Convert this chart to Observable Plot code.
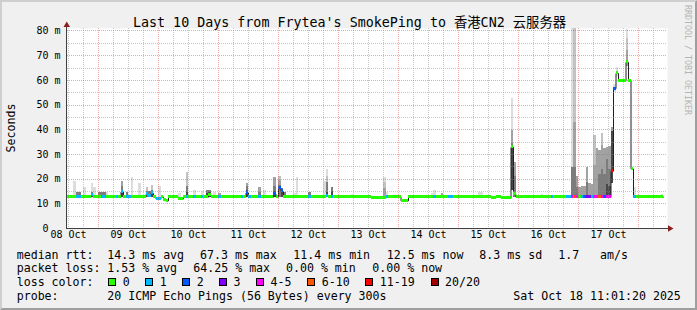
<!DOCTYPE html>
<html><head><meta charset="utf-8">
<script src="https://cdn.jsdelivr.net/npm/d3@7"></script>
<script src="https://cdn.jsdelivr.net/npm/@observablehq/plot@0.6"></script>
<style>
html,body{margin:0;padding:0;background:#f0f0f0;}
svg text{white-space:pre;}
</style></head><body><div id="chart"></div>
<script>
// ---------- data (hours after 2025-10-08 00:00 UTC, values in ms) ----------
const startHour = 11.6, endHour = 251.6, dataEndHour = 250;
const yMax = 81;
const baseMedian = 12.7;
const smokeBase = 12.4;
const medianRuns = [ // [fromHour, toHour, median ms]
  [21,22,13.5],[33,34,14.8],[43,44,13.8],[44,45,13.2],[45,46,14.2],[47,49,12.0],
  [50,51,11.7],[51,52,11.2],[56,58,12.0],[68,69,13.5],[83,84,14.4],[94,95,14.0],
  [96,97,16.3],[97,98,15.0],[115,116,13.2],[133,139,12.3],[145,148,11.2],
  [181,183,12.3],[185,189,12.3],[189,190,32.9],[190,191,13.8],
  [229,230,23.2],[230,231,56.6],[231,232,62.8],[232,235,59.8],[235,236,67.3],
  [236,237,59.8],[237,238,24.1]
];
const lossRuns = [ // [fromHour, toHour, loss class index]
  [15,17,1],[21,22,1],[25,27,1],[31,32,1],[33,34,1],[35,37,1],[43,46,1],[47,49,1],
  [59,60,1],[62,63,1],[65,66,1],[72,73,1],[81,82,1],[83,84,2],[84,85,1],[88,89,1],
  [94,95,2],[96,98,2],[108,109,1],[115,116,1],[117,118,1],[139,140,1],[158,159,1],
  [164,166,1],[205,206,1],[211,213,1],[213,214,4],[214,215,5],[215,216,4],
  [217,218,1],[218,219,2],[219,221,3],[221,222,1],[222,224,4],[224,225,5],
  [225,226,4],[226,227,2],[227,229,4],[229,230,6],[230,231,2],[238,239,1]
];
// [hour, low, tops from lightest to darkest smoke shade]
const smoke = [
  [14,null,18.9,null,null,null,null],[15,null,null,null,null,14.5,null],
  [16,null,null,null,null,14.5,null],[18,null,16.8,null,null,null,null],
  [21,null,18.1,null,null,14.5,13.8],[22,null,16.5,null,null,null,null],
  [24,null,null,null,null,14.5,null],[25,null,null,null,null,14.5,null],
  [26,null,null,null,null,14.5,null],[27,null,14.5,null,null,null,null],
  [33,null,null,null,18.9,16.9,15.5],[35,null,null,null,null,14.5,null],
  [37,null,20.8,null,null,null,null],[40,null,18.1,null,null,null,null],
  [43,null,null,16.5,null,14.8,null],[44,null,null,null,null,14.8,null],
  [45,null,null,17.5,null,15.5,14.8],[48,null,17.2,null,null,null,null],
  [56,null,14.1,null,null,null,null],[59,null,null,22.5,null,17,14.5],
  [62,null,15.2,null,null,null,null],[65,null,14.9,null,null,null,null],
  [67,null,null,null,null,15.2,14],[68,null,null,null,null,15.5,14.5],
  [70,null,14.5,null,null,null,null],[72,null,null,null,14.3,null,null],
  [83,null,null,null,18.1,17,15.5],[88,null,null,null,16.5,14.5,null],
  [90,null,15.2,null,null,null,null],[94,null,null,null,20.8,17,15],
  [96,null,null,21,19.5,17.5,null],[97,null,null,null,null,16,15.5],
  [98,null,null,null,null,14.5,null],[102,null,14.0,null,null,null,null],
  [103,null,20.8,null,null,null,null],[108,null,null,null,null,14.5,null],
  [114,null,19,null,null,null,null],[115,null,23.9,21,null,18.5,14.5],
  [117,null,null,null,null,16.8,15],[125,null,13.8,null,null,null,null],
  [138,null,20.8,18.5,16,null,null],[139,null,14.5,null,null,null,null],
  [157,null,14.1,null,null,null,null],[158,null,15.5,null,null,null,null],
  [161,null,null,null,14.3,null,null],[176,null,14.5,null,null,null,null],
  [177,null,14.5,null,null,null,null],[189,15.2,52.5,null,39.7,34.5,33],
  [190,null,null,null,26.8,21,null],[201,null,13.9,null,null,null,null],
  [213,null,82,null,null,24.8,null],[214,null,null,82,43.1,24.8,null],
  [215,null,null,null,21.2,16.5,null],[216,null,null,null,16.5,null,null],
  [217,null,null,null,17,null,null],[218,null,null,null,17,null,null],
  [219,null,null,null,24.8,18.5,null],[220,null,null,null,18.3,null,null],
  [221,null,null,null,18,null,null],[222,null,null,37.7,25.5,null,null],
  [223,null,null,null,32.3,null,null],[224,null,null,null,31.4,22,null],
  [225,null,null,38.3,33.5,24,null],[226,null,null,null,32.3,22,null],
  [227,null,null,null,33,28,18],[228,null,null,null,33.3,24,17],
  [229,18.1,null,null,41,null,39.3],[230,55,58.5,null,null,null,null],
  [231,61.5,65.1,null,null,null,null],[235,65.5,80.5,76.8,72.1,null,null],
  [238,null,16.7,null,null,null,null],[249,null,13.9,null,null,null,null]
];
const smokeShades = ["#dddddd","#c2c2c2","#a2a2a2","#7c7c7c","#484848"];
const lossLabels = ["0","1","2","3","4-5","6-10","11-19","20/20"];
const lossColors = ["#26ff00","#00b8ff","#0059ff","#7e00ff","#ff00ff","#ff5500","#ff0000","#a10000"];
const yTicks = [0,10,20,30,40,50,60,70,80];
const yMinor = [5,15,25,35,45,55,65,75];
const titleText = "Last 10 Days from Frytea's SmokePing to 香港CN2 云服务器";
const yLabel = "Seconds";
const watermark = "RRDTOOL / TOBI OETIKER";
const statRows = [
  [["median rtt:",16.7],["14.3 ms avg",107.3],["67.3 ms max",200],["11.4 ms min",293.3],["12.5 ms now",386.7],["8.3 ms sd",479.3],["1.7",558.3],["am/s",600]],
  [["packet loss:",16.7],["1.53 % avg",107.3],["64.25 % max",193.3],["0.00 % min",286],["0.00 % now",372.3]],
  [["loss color:",16.7]],
  [["probe:",16.7],["20 ICMP Echo Pings (56 Bytes) every 300s",107.3],["Sat Oct 18 11:01:20 2025",513.3]]
];

// ---------- derived tables ----------
const DAY0 = Date.UTC(2025, 9, 8);
const t = h => new Date(DAY0 + h * 3600000);
const valueAt = (runs, h, d) => { for (const [a,b,v] of runs) if (h >= a && h < b) return v; return d; };
const hourly = d3.range(11, dataEndHour).map(h => ({
  h, x1: t(Math.max(h, startHour)), x2: t(h + 1),
  m: valueAt(medianRuns, h, baseMedian), loss: valueAt(lossRuns, h, 0)
}));
const medianPts = hourly.map(d => ({x: d.x1, m: d.m}))
  .concat([{x: t(dataEndHour), m: hourly[hourly.length - 1].m}]);
const smokeRects = [];
smoke.forEach(([h, lo, ...tops]) => tops.forEach((v, k) => {
  if (v != null) smokeRects.push({k, x1: t(h), x2: t(h + 1), y1: lo ?? smokeBase, y2: Math.min(v, yMax), fill: smokeShades[k]});
}));
smokeRects.sort((a, b) => a.k - b.k);
const sixHours = d3.range(12, endHour, 6);
const majorTimes = sixHours.filter(h => h % 24 === 0).map(t);
const minorTimes = sixHours.filter(h => h % 24 !== 0).map(t);
const noonTimes = d3.range(12, 240, 24).map(t);
const fmtDay = d3.utcFormat("%d %b");
const MONO = "'DejaVu Sans Mono', 'Noto Sans CJK SC', monospace";

const plot = Plot.plot({
  width: 697, height: 310,
  marginLeft: 67, marginRight: 30, marginTop: 28, marginBottom: 82,
  style: {background: "#f0f0f0", fontFamily: MONO, color: "black", overflow: "visible"},
  x: {type: "utc", domain: [t(startHour), t(endHour)], axis: null},
  y: {domain: [0, yMax], axis: null},
  color: {type: "identity"},
  marks: [
    Plot.frame({fill: "white", stroke: "none"}),
    Plot.rect(smokeRects, {x1: "x1", x2: "x2", y1: "y1", y2: "y2", fill: "fill", shapeRendering: "crispEdges"}),
    Plot.line(medianPts, {x: "x", y: "m", curve: "step-after", stroke: "#202020", strokeWidth: 1}),
    Plot.rect(hourly, {x1: "x1", x2: "x2", y1: d => d.m - 0.6, y2: d => d.m + 0.6, fill: d => lossColors[d.loss], shapeRendering: "crispEdges"}),
    Plot.ruleX(minorTimes, {stroke: "rgba(143,143,143,0.5)", strokeDasharray: "1,1", shapeRendering: "crispEdges"}),
    Plot.ruleY(yMinor, {stroke: "rgba(143,143,143,0.5)", strokeDasharray: "1,1", shapeRendering: "crispEdges"}),
    Plot.ruleX(majorTimes, {stroke: "rgba(222,80,80,0.5)", strokeDasharray: "1,1", shapeRendering: "crispEdges"}),
    Plot.ruleY(yTicks.filter(v => v > 0), {stroke: "rgba(222,80,80,0.5)", strokeDasharray: "1,1", shapeRendering: "crispEdges"}),
    Plot.text(noonTimes, {x: d => d, frameAnchor: "bottom", dy: 9.8, text: d => fmtDay(d), fontSize: 10, fontFamily: MONO, fill: "black"}),
    Plot.text(yTicks, {y: d => d, frameAnchor: "left", dx: -31, textAnchor: "start", text: d => d ? `${d} m` : " 0", fontSize: 10, fontFamily: MONO, fill: "black"})
  ]
});

// ---------- decorations ----------
const svg = d3.select(plot);
const ns = svg.append("g").attr("text-anchor", "start");
const AX = "#404040", ARROW = "#8b1e1e";
ns.append("line").attr("x1", 66.5).attr("x2", 66.5).attr("y1", 229).attr("y2", 25).attr("stroke", AX);
ns.append("line").attr("x1", 66).attr("x2", 669).attr("y1", 228.5).attr("y2", 228.5).attr("stroke", AX);
ns.append("path").attr("d", "M63.5,27L70,27L66.75,21.5Z").attr("fill", ARROW);
ns.append("path").attr("d", "M668,225.3L668,231.7L673.5,228.5Z").attr("fill", ARROW);
// borders
ns.append("path").attr("d", "M0,0H697L695,2H2V308L0,310Z").attr("fill", "#cfcfcf");
ns.append("path").attr("d", "M697,0V310H0L2,308H695V2Z").attr("fill", "#9e9e9e");
const txt = (x, y, s, size, fill = "black") => ns.append("text").attr("x", x).attr("y", y)
  .attr("text-anchor", "start").attr("font-size", size).attr("font-family", MONO).attr("fill", fill).text(s);
// title
txt(133, 27, titleText, 13.33);
// y label
ns.append("text").attr("transform", "translate(14.5,128) rotate(-90)").attr("text-anchor", "middle")
  .attr("font-size", 11.6).attr("font-family", MONO).attr("fill", "black").text(yLabel);
// watermark
ns.append("text").attr("transform", "translate(685,5) rotate(90)").attr("text-anchor", "start").attr("font-size", 8.3)
  .attr("font-family", MONO).attr("fill", "#b4b4b4").text(watermark);
// legend
const rowY = [258.5, 272.2, 286, 299.8];
statRows.forEach((row, i) => row.forEach(([s, x]) => txt(x, rowY[i], s, 11.6)));
let bx = 108.3;
lossLabels.forEach((lab, i) => {
  ns.append("rect").attr("x", Math.round(bx) + 0.5).attr("y", 278.5).attr("width", 7).attr("height", 7)
    .attr("fill", lossColors[i]).attr("stroke", "black").attr("stroke-width", 1);
  txt(bx + 14.4, rowY[2], lab, 11.6);
  bx += 29.9 + 7.07 * lab.length;
});
document.getElementById("chart").appendChild(plot);
</script></body></html>
